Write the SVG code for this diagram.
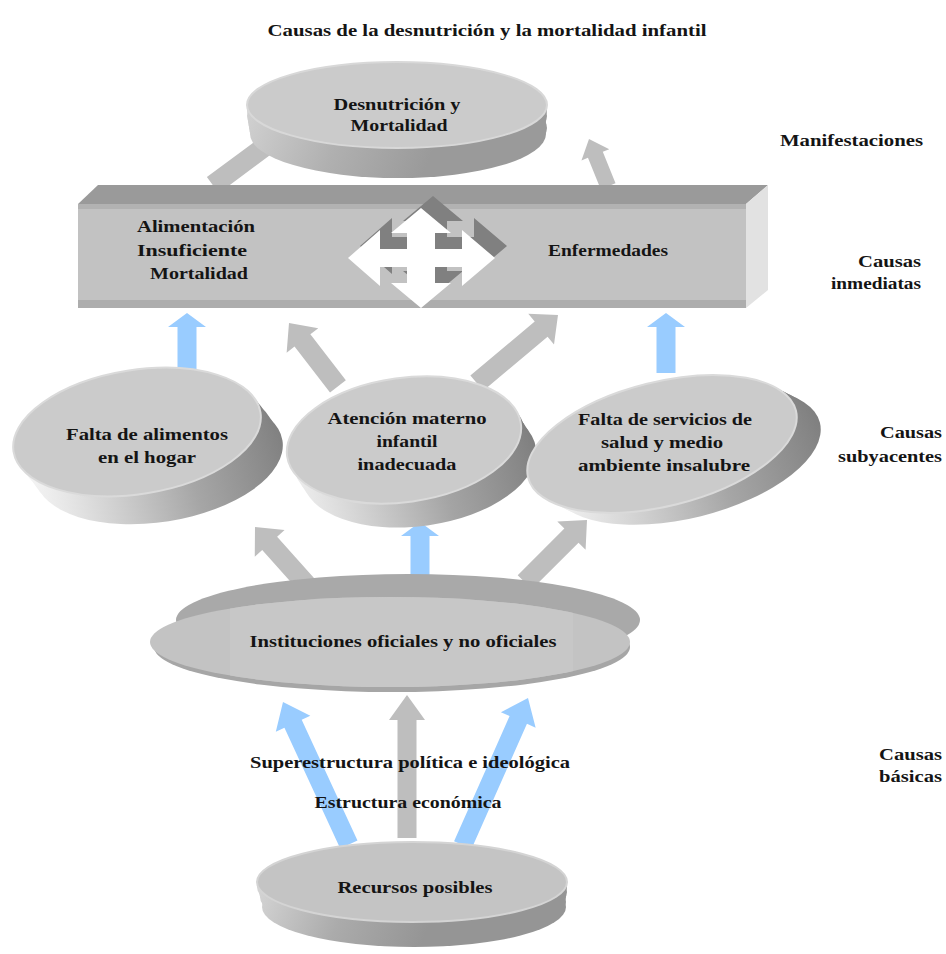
<svg xmlns="http://www.w3.org/2000/svg" width="946" height="954" viewBox="0 0 946 954">
<style>
  .t{font-family:"Liberation Serif","Times New Roman",serif;font-weight:bold;font-size:17px;fill:#141414;}
  .m{text-anchor:middle;}
  .e{text-anchor:end;}
  .ga{fill:#bebebe;}
  .ba{fill:#99ccff;}
  .face{fill:#cbcbcb;stroke:#dadada;stroke-width:2;}
</style>
<defs>
  <linearGradient id="gTop" gradientUnits="userSpaceOnUse" x1="250" y1="110" x2="420" y2="182">
    <stop offset="0" stop-color="#d0d0d0"/>
    <stop offset="0.5" stop-color="#b0b0b0"/>
    <stop offset="1" stop-color="#9a9a9a"/>
  </linearGradient>
  <linearGradient id="gL" gradientUnits="userSpaceOnUse" x1="40" y1="500" x2="290" y2="430">
    <stop offset="0" stop-color="#f2f2f2"/>
    <stop offset="0.55" stop-color="#a6a6a6"/>
    <stop offset="1" stop-color="#7c7c7c"/>
  </linearGradient>
  <linearGradient id="gM" gradientUnits="userSpaceOnUse" x1="300" y1="510" x2="540" y2="440">
    <stop offset="0" stop-color="#f0f0f0"/>
    <stop offset="0.55" stop-color="#a4a4a4"/>
    <stop offset="1" stop-color="#7c7c7c"/>
  </linearGradient>
  <linearGradient id="gR" gradientUnits="userSpaceOnUse" x1="560" y1="510" x2="822" y2="430">
    <stop offset="0" stop-color="#f0f0f0"/>
    <stop offset="0.55" stop-color="#a6a6a6"/>
    <stop offset="1" stop-color="#7e7e7e"/>
  </linearGradient>
  <linearGradient id="gRec" gradientUnits="userSpaceOnUse" x1="260" y1="885" x2="420" y2="948">
    <stop offset="0" stop-color="#d4d4d4"/>
    <stop offset="0.5" stop-color="#ababab"/>
    <stop offset="1" stop-color="#959595"/>
  </linearGradient>
  <clipPath id="instClip">
    <ellipse cx="390" cy="642" rx="240" ry="45"/>
  </clipPath>
</defs>

<rect width="946" height="954" fill="#ffffff"/>

<text class="t m" x="487" y="36" textLength="439" lengthAdjust="spacingAndGlyphs">Causas de la desnutrición y la mortalidad infantil</text>

<!-- connectors -->
<g id="connectors">
  <path class="ga" transform="translate(290,128) rotate(53.5)" d="M0,0 L20,22 L10,22 L10,96 L-10,96 L-10,22 L-20,22 Z"/>
  <path class="ga" transform="translate(589,139) rotate(-22)" d="M0,0 L15,17 L8,17 L8,51 L-8,51 L-8,17 L-15,17 Z"/>
  <path class="ba" transform="translate(187,313)" d="M0,0 L19,14 L9.5,14 L9.5,60 L-9.5,60 L-9.5,14 L-19,14 Z"/>
  <path class="ba" transform="translate(666,313)" d="M0,0 L19,14 L9.5,14 L9.5,60 L-9.5,60 L-9.5,14 L-19,14 Z"/>
  <path class="ga" transform="translate(289,323) rotate(-37.7)" d="M0,0 L20,22 L10,22 L10,80 L-10,80 L-10,22 L-20,22 Z"/>
  <path class="ga" transform="translate(558,315) rotate(50)" d="M0,0 L20,22 L10,22 L10,106 L-10,106 L-10,22 L-20,22 Z"/>
  <path class="ga" transform="translate(255,527) rotate(-41.8)" d="M0,0 L20,22 L10,22 L10,78 L-10,78 L-10,22 L-20,22 Z"/>
  <path class="ba" transform="translate(420,522)" d="M0,0 L19,14 L9.5,14 L9.5,60 L-9.5,60 L-9.5,14 L-19,14 Z"/>
  <path class="ga" transform="translate(587,520) rotate(45)" d="M0,0 L20,22 L10,22 L10,88 L-10,88 L-10,22 L-20,22 Z"/>
  <path class="ba" transform="translate(283,702) rotate(-24.8)" d="M0,0 L19,24 L9.5,24 L9.5,157 L-9.5,157 L-9.5,24 L-19,24 Z"/>
  <path class="ga" transform="translate(407,695)" d="M0,0 L18,25 L9.5,25 L9.5,143 L-9.5,143 L-9.5,25 L-18,25 Z"/>
  <path class="ba" transform="translate(528,698) rotate(23.9)" d="M0,0 L19,24 L9.5,24 L9.5,161 L-9.5,161 L-9.5,24 L-19,24 Z"/>
</g>

<!-- top ellipse -->
<g id="desnutricion">
  <g fill="url(#gTop)">
    <ellipse cx="398" cy="134" rx="148" ry="44"/>
    <ellipse cx="398" cy="128" rx="149" ry="44"/>
    <ellipse cx="397" cy="122" rx="149" ry="44"/>
    <ellipse cx="397" cy="116" rx="150" ry="44"/>
    <ellipse cx="397" cy="110" rx="150" ry="43"/>
  </g>
  <ellipse cx="397" cy="105" rx="150" ry="43" fill="#cbcbcb" stroke="#d8d8d8" stroke-width="2"/>
  <text class="t m" x="397" y="110" textLength="127" lengthAdjust="spacingAndGlyphs">Desnutrición y</text>
  <text class="t m" x="399" y="131" textLength="97" lengthAdjust="spacingAndGlyphs">Mortalidad</text>
</g>

<!-- box -->
<g id="inmediatas">
  <polygon points="78,204 98,185 768,185 746,204" fill="#9a9a9a"/>
  <polygon points="746,204 768,185 768,290 746,308" fill="#e2e2e2"/>
  <rect x="78" y="204" width="668" height="104" fill="#c2c2c2"/>
  <rect x="78" y="204" width="668" height="5" fill="#b2b2b2"/>
  <rect x="78" y="300" width="668" height="8" fill="#adadad"/>
  <path transform="translate(12,-12)" fill="#808080" d="M421,208 L451,233 L435,233 L435,249 L462,249 L462,230 L495,258 L462,286 L462,267 L435,267 L435,283 L451,283 L421,308 L391,283 L407,283 L407,267 L380,267 L380,286 L348,258 L380,230 L380,249 L407,249 L407,233 L391,233 Z"/>
  <path fill="#ffffff" d="M421,208 L451,233 L435,233 L435,249 L462,249 L462,230 L495,258 L462,286 L462,267 L435,267 L435,283 L451,283 L421,308 L391,283 L407,283 L407,267 L380,267 L380,286 L348,258 L380,230 L380,249 L407,249 L407,233 L391,233 Z"/>
  <text class="t m" x="196" y="232" textLength="118" lengthAdjust="spacingAndGlyphs">Alimentación</text>
  <text class="t m" x="192" y="256" textLength="110" lengthAdjust="spacingAndGlyphs">Insuficiente</text>
  <text class="t m" x="199" y="279" textLength="98" lengthAdjust="spacingAndGlyphs">Mortalidad</text>
  <text class="t m" x="608" y="256" textLength="120" lengthAdjust="spacingAndGlyphs">Enfermedades</text>
</g>

<!-- left disc -->
<g id="falta-alimentos">
  <g fill="url(#gL)">
    <ellipse cx="159" cy="460" rx="125" ry="62" transform="rotate(-9 159 460)"/>
    <ellipse cx="155" cy="455" rx="125" ry="62" transform="rotate(-9 155 455)"/>
    <ellipse cx="150" cy="448" rx="125" ry="62" transform="rotate(-9 150 448)"/>
    <ellipse cx="145" cy="442" rx="125" ry="62" transform="rotate(-9 145 442)"/>
    <ellipse cx="141" cy="437" rx="125" ry="62" transform="rotate(-9 141 437)"/>
  </g>
  <ellipse class="face" cx="137" cy="432" rx="125" ry="62" transform="rotate(-9 137 432)"/>
  <text class="t m" x="147" y="440" textLength="162" lengthAdjust="spacingAndGlyphs">Falta de alimentos</text>
  <text class="t m" x="147" y="463" textLength="98" lengthAdjust="spacingAndGlyphs">en el hogar</text>
</g>

<!-- middle disc -->
<g id="atencion">
  <g fill="url(#gM)">
    <ellipse cx="419" cy="464" rx="118" ry="62" transform="rotate(-8 419 464)"/>
    <ellipse cx="415" cy="458" rx="118" ry="62" transform="rotate(-8 415 458)"/>
    <ellipse cx="411" cy="452" rx="118" ry="62" transform="rotate(-8 411 452)"/>
    <ellipse cx="408" cy="446" rx="118" ry="62" transform="rotate(-8 408 446)"/>
  </g>
  <ellipse class="face" cx="404" cy="440" rx="118" ry="62" transform="rotate(-8 404 440)"/>
  <text class="t m" x="407" y="424" textLength="159" lengthAdjust="spacingAndGlyphs">Atención materno</text>
  <text class="t m" x="407" y="447" textLength="61" lengthAdjust="spacingAndGlyphs">infantil</text>
  <text class="t m" x="407" y="470" textLength="99" lengthAdjust="spacingAndGlyphs">inadecuada</text>
</g>

<!-- right disc -->
<g id="falta-servicios">
  <g fill="url(#gR)">
    <ellipse cx="686" cy="456" rx="138" ry="62" transform="rotate(-14 686 456)"/>
    <ellipse cx="680" cy="453" rx="138" ry="62" transform="rotate(-14 680 453)"/>
    <ellipse cx="674" cy="450" rx="138" ry="62" transform="rotate(-14 674 450)"/>
    <ellipse cx="668" cy="447" rx="138" ry="62" transform="rotate(-14 668 447)"/>
  </g>
  <ellipse class="face" cx="662" cy="444" rx="138" ry="62" transform="rotate(-14 662 444)"/>
  <text class="t m" x="665" y="425" textLength="174" lengthAdjust="spacingAndGlyphs">Falta de servicios de</text>
  <text class="t m" x="662" y="448" textLength="122" lengthAdjust="spacingAndGlyphs">salud y medio</text>
  <text class="t m" x="664" y="471" textLength="172" lengthAdjust="spacingAndGlyphs">ambiente insalubre</text>
</g>

<!-- instituciones -->
<g id="instituciones">
  <ellipse cx="408" cy="620" rx="232" ry="46" fill="#a9a9a9"/>
  <ellipse cx="392" cy="647" rx="238" ry="45" fill="#a6a6a6"/>
  <ellipse cx="390" cy="642" rx="240" ry="45" fill="#c3c3c3"/>
  <rect x="230" y="595" width="343" height="95" fill="#c7c7c7" clip-path="url(#instClip)"/>
  <text class="t m" x="403" y="647" textLength="307" lengthAdjust="spacingAndGlyphs">Instituciones oficiales y no oficiales</text>
</g>

<text class="t m" x="410" y="768" textLength="320" lengthAdjust="spacingAndGlyphs">Superestructura política e ideológica</text>
<text class="t m" x="408" y="808" textLength="187" lengthAdjust="spacingAndGlyphs">Estructura económica</text>

<!-- recursos -->
<g id="recursos">
  <g fill="url(#gRec)">
    <ellipse cx="414" cy="907" rx="152" ry="40"/>
    <ellipse cx="414" cy="902" rx="152" ry="40"/>
    <ellipse cx="413" cy="897" rx="153" ry="40"/>
    <ellipse cx="413" cy="892" rx="154" ry="40"/>
    <ellipse cx="412" cy="887" rx="155" ry="40"/>
  </g>
  <ellipse cx="412" cy="882" rx="155" ry="40" fill="#c4c4c4" stroke="#d4d4d4" stroke-width="2"/>
  <text class="t m" x="415" y="893" textLength="155" lengthAdjust="spacingAndGlyphs">Recursos posibles</text>
</g>

<!-- level labels -->
<g id="labels">
  <text class="t" x="780" y="146" textLength="143" lengthAdjust="spacingAndGlyphs">Manifestaciones</text>
  <text class="t e" x="921" y="267" textLength="63" lengthAdjust="spacingAndGlyphs">Causas</text>
  <text class="t e" x="921" y="289" textLength="90" lengthAdjust="spacingAndGlyphs">inmediatas</text>
  <text class="t e" x="942" y="438" textLength="62" lengthAdjust="spacingAndGlyphs">Causas</text>
  <text class="t e" x="942" y="462" textLength="104" lengthAdjust="spacingAndGlyphs">subyacentes</text>
  <text class="t e" x="942" y="760" textLength="63" lengthAdjust="spacingAndGlyphs">Causas</text>
  <text class="t e" x="942" y="782" textLength="63" lengthAdjust="spacingAndGlyphs">básicas</text>
</g>
</svg>
